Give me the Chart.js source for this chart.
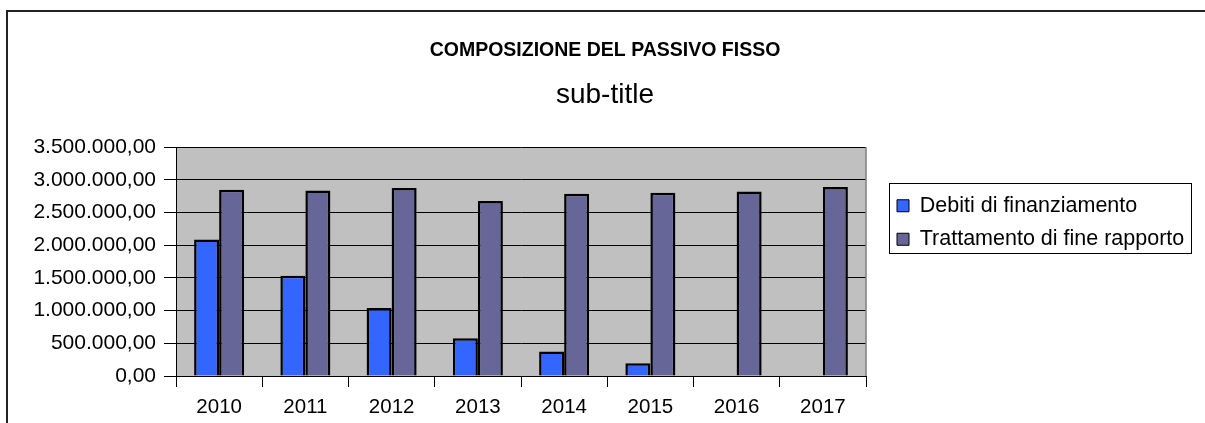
<!DOCTYPE html>
<html>
<head>
<meta charset="utf-8">
<title>Composizione del passivo fisso</title>
<script src="https://cdn.jsdelivr.net/npm/chart.js@4.4.1/dist/chart.umd.min.js"></script>
<style>
    html, body { margin: 0; padding: 0; background: #fff; overflow: hidden; }
    #frame {
        position: absolute; left: 6px; top: 10px;
        width: 1400px; height: 600px;
        border: 2px solid #222;
    }
    #wrap { position: absolute; left: 0; top: 0; width: 1205px; height: 423px; }
</style>
</head>
<body>
<div id="frame"></div>
<div id="wrap"><canvas id="passivoChart" width="1205" height="423"></canvas></div>
<script>
// Dati
const anni = ['2010', '2011', '2012', '2013', '2014', '2015', '2016', '2017'];
const debitiFinanziamento = [2085000, 1533000, 1040000, 578000, 375000, 193000, 0, 0];
const trattamentoFineRapporto = [2846000, 2836000, 2872000, 2674000, 2785000, 2800000, 2820000, 2890000];
const yMin = 0;
const yMax = 3500000;
const yStep = 500000;

const FONT = '"Liberation Sans", Arial, sans-serif';

// 3500000 -> "3.500.000,00"
function formatoIt(v) {
    const parts = Number(v).toFixed(2).split('.');
    return parts[0].replace(/\B(?=(\d{3})+(?!\d))/g, '.') + ',' + parts[1];
}

// sfondo grigio dell'area del grafico + bordo destro
const areaSfondo = {
    id: 'areaSfondo',
    beforeDraw(chart) {
        const a = chart.chartArea;
        const ctx = chart.ctx;
        ctx.save();
        ctx.fillStyle = '#C0C0C0';
        ctx.fillRect(a.left, a.top, a.right - a.left, a.bottom - a.top);
        ctx.restore();
    },
    afterDatasetsDraw(chart) {
        const a = chart.chartArea;
        const ctx = chart.ctx;
        ctx.save();
        ctx.strokeStyle = '#808080';
        ctx.lineWidth = 1.5;
        ctx.beginPath();
        ctx.moveTo(a.right, a.top);
        ctx.lineTo(a.right, a.bottom);
        ctx.stroke();
        ctx.restore();
    }
};

// ritocchi di posizione: titoli centrati sulla cornice, legenda spostata e incorniciata
const ritocchi = {
    id: 'ritocchi',
    afterLayout(chart) {
        chart.boxes.forEach(function(b) {
            if (b !== chart.legend && b.options && b.options.position === 'top' && b.options.text !== undefined) {
                b.left += 16;
                b.right += 16;
            }
        });
        const lg = chart.legend;
        lg.left += 19;
        lg.width = 320;
        lg.right = lg.left + lg.width;
        lg.top += 36; lg.bottom += 36;
    },
    afterDraw(chart) {
        const lg = chart.legend;
        const pad = lg.options.labels.padding;
        const ctx = chart.ctx;
        ctx.save();
        ctx.strokeStyle = '#000';
        ctx.lineWidth = 1;
        ctx.strokeRect(Math.round(lg.left + pad - 8) + 0.5, Math.round(lg.top + pad - 12) + 0.5, 302, 70);
        ctx.restore();
    }
};

const ctx = document.getElementById('passivoChart').getContext('2d');
const passivoChart = new Chart(ctx, {
    type: 'bar',
    data: {
        labels: anni,
        datasets: [{
            label: 'Debiti di finanziamento',
            data: debitiFinanziamento,
            backgroundColor: '#3366FF',
            borderColor: '#000',
            borderWidth: 2.5
        }, {
            label: 'Trattamento di fine rapporto',
            data: trattamentoFineRapporto,
            backgroundColor: '#666699',
            borderColor: '#000',
            borderWidth: 2.5
        }]
    },
    options: {
        responsive: false,
        animation: false,
        layout: {
            padding: { top: 0, left: 26, right: 53, bottom: 0 }
        },
        datasets: {
            bar: { categoryPercentage: 0.58, barPercentage: 1 }
        },
        plugins: {
            title: {
                display: true,
                text: 'COMPOSIZIONE DEL PASSIVO FISSO',
                color: '#000',
                font: { family: FONT, size: 19.5, weight: 'bold', lineHeight: 1.2 },
                padding: { top: 39, bottom: 0 }
            },
            subtitle: {
                display: true,
                text: 'sub-title',
                color: '#000',
                font: { family: FONT, size: 28, weight: 'normal', lineHeight: 1.2 },
                padding: { top: 16, bottom: 35 }
            },
            legend: {
                position: 'right',
                align: 'start',
                fullSize: false,
                maxWidth: 286,
                labels: {
                    color: '#000',
                    font: { family: FONT, size: 21.5 },
                    boxWidth: 12,
                    boxHeight: 12,
                    padding: 12,
                    generateLabels: function(chart) {
                        const items = Chart.defaults.plugins.legend.labels.generateLabels(chart);
                        items.forEach(function(it) {
                            it.lineWidth = 1;
                            it.strokeStyle = '#000';
                        });
                        return items;
                    }
                }
            },
            tooltip: { enabled: false }
        },
        scales: {
            x: {
                grid: {
                    offset: true,
                    drawOnChartArea: false,
                    drawTicks: true,
                    tickLength: 11,
                    color: '#000'
                },
                border: { display: true, color: '#000', width: 1 },
                ticks: {
                    color: '#000',
                    padding: 8,
                    maxRotation: 0,
                    font: { family: FONT, size: 20.5 }
                },
                afterFit: function(scale) { scale.height = 47; }
            },
            y: {
                min: yMin,
                max: yMax,
                grid: {
                    color: '#000',
                    lineWidth: 1,
                    drawTicks: true,
                    tickLength: 12
                },
                border: { display: true, color: '#000', width: 1 },
                ticks: {
                    stepSize: yStep,
                    color: '#000',
                    padding: 8,
                    font: { family: FONT, size: 21 },
                    callback: function(value) { return formatoIt(value); }
                },
                afterFit: function(scale) { scale.width = 150; }
            }
        }
    },
    plugins: [areaSfondo, ritocchi]
});
</script>
</body>
</html>
